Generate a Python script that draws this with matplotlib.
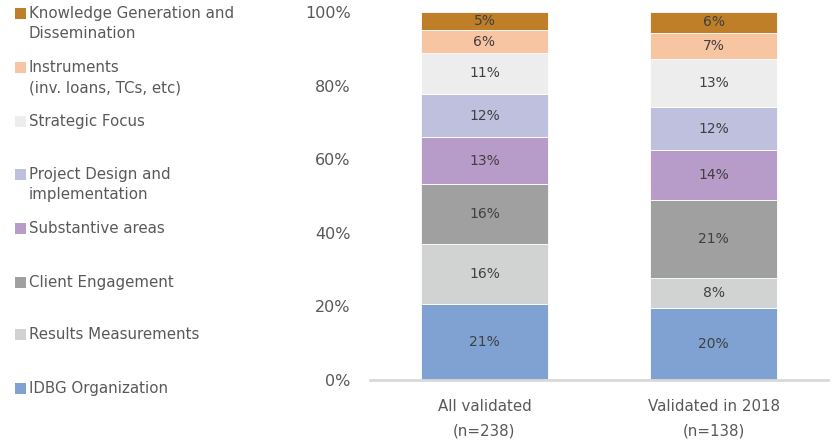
import matplotlib.pyplot as plt
from matplotlib.patches import Rectangle

plt.rcParams['font.family'] = ['DejaVu Sans']

# Categories, bottom to top of each stack
categories = ["IDBG Organization", "Results Measurements", "Client Engagement",
              "Substantive areas", "Project Design and\nimplementation",
              "Strategic Focus", "Instruments\n(inv. loans, TCs, etc)",
              "Knowledge Generation and\nDissemination"]
colors = ["#7FA2D3", "#D1D3D2", "#A0A0A0", "#B79BC8", "#BFC0DE",
          "#EDEDED", "#F8C5A3", "#BE7F28"]

groups = ["All validated\n(n=238)", "Validated in 2018\n(n=138)"]
all_validated = [20.6, 16.4, 16.3, 12.6, 11.9, 11.0, 6.3, 4.9]
validated_2018 = [19.6, 8.1, 21.2, 13.6, 11.6, 13.2, 7.1, 5.6]
series = [all_validated, validated_2018]

# legend rows: y of first text line in pixels from top
legend_y = [389, 335, 283, 229, 175, 122, 68, 14]

W, H = 833, 446
fig = plt.figure(figsize=(W / 100, H / 100), dpi=100)
ax = fig.add_axes([370 / W, (H - 380) / H, 458 / W, 368 / H])

text_color = "#595959"
for gi, vals in enumerate(series):
    bottom = 0
    for ci, v in enumerate(vals):
        ax.bar(gi, v, bottom=bottom, width=0.555, color=colors[ci],
               edgecolor="white", linewidth=0.6)
        ax.text(gi, bottom + v / 2, f"{v:.0f}%", ha="center", va="center",
                fontsize=10, color="#404040")
        bottom += v

ax.set_xlim(-0.5, 1.5)
ax.set_ylim(0, 100)
ax.set_yticks(range(0, 101, 20))
ax.set_yticklabels([f"{t}%" for t in range(0, 101, 20)], fontsize=11.5, color=text_color)
ax.set_xticks([0, 1])
ax.set_xticklabels(groups, fontsize=10.8, color=text_color, linespacing=1.75)
ax.tick_params(axis="both", length=0)
ax.tick_params(axis="y", pad=14)
ax.tick_params(axis="x", pad=14)
for s in ["top", "right", "left"]:
    ax.spines[s].set_visible(False)
ax.spines["bottom"].set_color("#D9D9D9")
ax.spines["bottom"].set_linewidth(2)

# hand-placed legend down the left side
for name, c, y in zip(categories, colors, legend_y):
    fig.add_artist(Rectangle((15 / W, 1 - (y + 5) / H), 11 / W, 11 / H,
                             transform=fig.transFigure, color=c, lw=0))
    fig.text(29 / W, 1 - (y - 8) / H, name, ha="left", va="top",
             fontsize=10.8, color=text_color, linespacing=1.45)

fig.savefig("out.png", dpi=100)
